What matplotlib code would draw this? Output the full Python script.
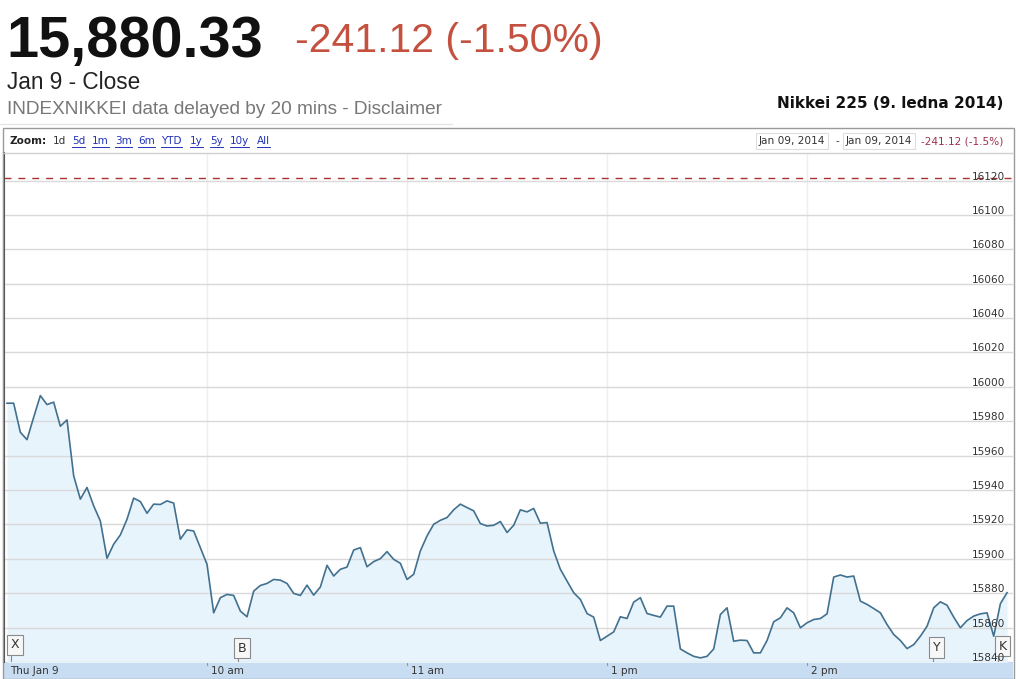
import numpy as np
import matplotlib
matplotlib.use("Agg")
import matplotlib.pyplot as plt
from matplotlib.patches import Rectangle

# Nikkei 225 intraday, 9 Jan 2014, one point per 2 trading minutes (lunch break removed)
prices = [
    15990.5, 15990.5, 15973.6, 15969.3, 15982.3, 15994.9, 15989.7, 15991.1, 15977.1, 15980.8,
    15948.3, 15934.7, 15941.5, 15930.8, 15922.0, 15900.3, 15908.5, 15913.9, 15923.0, 15935.3,
    15933.3, 15926.5, 15931.8, 15931.6, 15933.7, 15932.4, 15911.4, 15916.8, 15916.2, 15906.5,
    15896.8, 15868.6, 15877.4, 15879.3, 15878.7, 15869.6, 15866.3, 15881.2, 15884.5, 15885.7,
    15888.0, 15887.6, 15885.7, 15879.9, 15878.7, 15884.7, 15878.9, 15883.6, 15896.2, 15890.0,
    15893.9, 15895.2, 15905.1, 15906.5, 15895.4, 15898.4, 15900.1, 15904.2, 15899.7, 15897.4,
    15888.0, 15891.0, 15904.6, 15913.3, 15920.1, 15922.4, 15924.0, 15928.5, 15931.8, 15929.8,
    15927.9, 15920.5, 15919.1, 15919.5, 15921.7, 15915.3, 15919.5, 15928.5, 15927.3, 15929.3,
    15920.7, 15921.1, 15904.6, 15893.9, 15887.1, 15880.3, 15876.4, 15868.2, 15866.1, 15852.5,
    15855.0, 15857.5, 15866.3, 15865.3, 15874.8, 15877.4, 15868.2, 15867.1, 15866.1, 15872.5,
    15872.5, 15847.6, 15845.3, 15843.3, 15842.4, 15843.3, 15847.6, 15867.6, 15871.5, 15852.1,
    15852.7, 15852.5, 15845.3, 15845.3, 15852.5, 15863.4, 15865.7, 15871.5, 15868.6, 15859.9,
    15862.8, 15864.7, 15865.3, 15868.0, 15889.4, 15890.6, 15889.4, 15890.0, 15875.4, 15873.5,
    15871.1, 15868.6, 15861.8, 15856.0, 15852.5, 15847.8, 15850.1, 15855.0, 15860.8, 15871.5,
    15875.0, 15873.0, 15866.1, 15859.9, 15864.1, 15866.7, 15868.0, 15868.6, 15855.0, 15873.9,
    15880.33,
]
prev_close = 16121.45

y_ticks = list(range(15840, 16121, 20))
x_tick_pos = [0, 30, 60, 90, 120]
x_tick_labels = ["Thu Jan 9", "10 am", "11 am", "1 pm", "2 pm"]

flag_letters = ["X", "B", "Y", "K"]
flag_pos = [0.55, 34.6, 138.9, 148.7]
flag_level = [15850.0, 15848.0, 15848.3, 15849.3]

zoom_links = ["5d", "1m", "3m", "6m", "YTD", "1y", "5y", "10y", "All"]
zoom_link_x = [72, 92, 115, 138, 161, 190, 210, 230, 257]

W, H = 1016, 679
fig = plt.figure(figsize=(W / 100, H / 100), dpi=100)
fig.patch.set_facecolor("white")

def px_rect(x0, y0, x1, y1):
    return [x0 / W, 1 - y1 / H, (x1 - x0) / W, (y1 - y0) / H]

# time band (drawn first, under the chart's labels)
axb = fig.add_axes(px_rect(4, 662, 1013, 679), zorder=1)
axb.set_facecolor("#c8ddf1")
axb.set_ylim(0, 1)
axb.set_xticks([])
axb.set_yticks([])
for s in axb.spines.values():
    s.set_visible(False)

# main chart
ax = fig.add_axes(px_rect(4, 153, 1013, 662), zorder=2)
x = np.arange(len(prices))
ax.set_xlim((4 - 7) / 6.667, (1013 - 7) / 6.667)
ax.set_ylim(15840, 16136)
ax.fill_between(x, prices, 15800, color="#e8f4fc", lw=0, zorder=1)
ax.plot(x, prices, color="#42708f", lw=1.2, zorder=3)
ax.axhline(prev_close, color="#a83232", lw=1, dashes=(5, 5), zorder=2)
for v in y_ticks:
    ax.axhline(v, color="#d9d9d9", lw=1, zorder=2)
    ax.annotate(str(v), xy=(1.0, v), xycoords=("axes fraction", "data"),
                xytext=(-8, 4), textcoords="offset pixels", ha="right", va="center",
                fontsize=7.6, color="#333333", zorder=8, annotation_clip=False)
for p in x_tick_pos[1:]:
    ax.axvline(p, color="#eeeeee", lw=1, zorder=0.5)
for letter, p, lev in zip(flag_letters, flag_pos, flag_level):
    ax.plot([p, p], [15840, lev], color="#888888", lw=0.8, zorder=4)
    ax.text(p, lev, letter, ha="left", va="center", fontsize=9, color="#333333", zorder=6,
            bbox=dict(boxstyle="square,pad=0.3", fc="#f7f7f7", ec="#8a8a8a", lw=0.8))
ax.set_xticks([])
ax.set_yticks([])
for s in ["top", "right", "bottom"]:
    ax.spines[s].set_visible(False)
ax.spines["left"].set_color("#444444")
ax.spines["left"].set_linewidth(1.5)

axb.set_xlim(ax.get_xlim())
for p, lab in zip(x_tick_pos, x_tick_labels):
    if p > 0:
        axb.plot([p, p], [0.85, 1], color="#999999", lw=0.8)
    axb.annotate(lab, xy=(p, 0.45), xycoords="data", xytext=(4 if p > 0 else 3, 0),
                 textcoords="offset pixels", ha="left", va="center", fontsize=7.5, color="#333333")

# overlay in pixel coordinates for header and toolbar
ov = fig.add_axes([0, 0, 1, 1], zorder=10)
ov.set_xlim(0, W)
ov.set_ylim(H, 0)
ov.axis("off")
ov.patch.set_alpha(0)

ov.add_patch(Rectangle((3, 128), 1011, 551, fill=False, ec="#9a9a9a", lw=1))
ov.plot([4, 1013], [153, 153], color="#d0d0d0", lw=1)
ov.plot([0, 452], [124, 124], color="#e6e6e6", lw=1)

ov.text(6, 57, "15,880.33", fontsize=41.5, fontweight="bold", family="Liberation Sans",
        color="#111111", ha="left", va="baseline")
ov.text(295, 52, "-241.12 (-1.50%)", fontsize=29.5, family="Liberation Sans",
        color="#c4513f", ha="left", va="baseline")
ov.text(7, 89, "Jan 9 - Close", fontsize=16.3, family="Liberation Sans",
        color="#222222", ha="left", va="baseline")
ov.text(7, 114, "INDEXNIKKEI data delayed by 20 mins - Disclaimer", fontsize=13.7,
        family="Liberation Sans", color="#777777", ha="left", va="baseline")
ov.text(1003, 104, "Nikkei 225 (9. ledna 2014)", fontsize=11, fontweight="bold",
        color="#111111", ha="right", va="center")

ov.text(10, 141, "Zoom:", fontsize=7.5, fontweight="bold", color="#222222", va="center")
ov.text(53, 141, "1d", fontsize=7.5, color="#333333", va="center")
link_texts = []
for lab, lx in zip(zoom_links, zoom_link_x):
    link_texts.append(ov.text(lx, 141, lab, fontsize=7.5, color="#2233bb", va="center"))

ov.text(792, 141, "Jan 09, 2014", fontsize=7.6, color="#333333", ha="center", va="center",
        bbox=dict(boxstyle="square,pad=0.3", fc="white", ec="#dddddd", lw=0.8))
ov.text(837, 141, "-", fontsize=7.5, color="#333333", ha="center", va="center")
ov.text(879, 141, "Jan 09, 2014", fontsize=7.6, color="#333333", ha="center", va="center",
        bbox=dict(boxstyle="square,pad=0.3", fc="white", ec="#dddddd", lw=0.8))
ov.text(921, 141, "-241.12 (-1.5%)", fontsize=7.6, color="#a0304f", ha="left", va="center")

# underline the zoom links
fig.canvas.draw()
inv = ov.transData.inverted()
for t in link_texts:
    bb = t.get_window_extent()
    (x0, _), (x1, _) = inv.transform([(bb.x0, bb.y0), (bb.x1, bb.y0)])
    ov.plot([x0, x1], [147, 147], color="#2233bb", lw=0.7)

fig.savefig("out.png", dpi=100)
